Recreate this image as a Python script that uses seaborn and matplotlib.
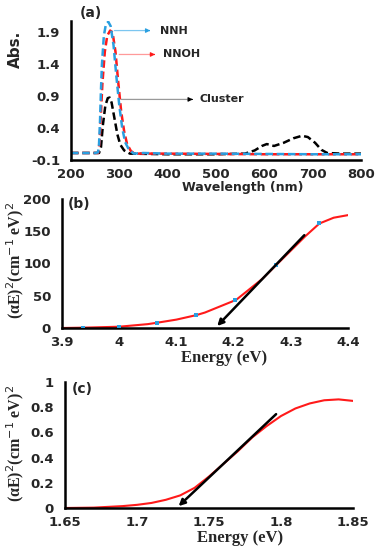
import matplotlib
matplotlib.use("Agg")
import matplotlib.pyplot as plt
import seaborn as sns
import pandas as pd

# ---------- data: panel (a) UV-Vis ----------
nnh_wl = [200, 250, 256, 258, 260, 262, 264, 268, 272, 277, 282, 288, 294, 300, 306, 312, 320, 330, 350, 400, 500, 600, 700, 800]
nnh_abs = [0.01, 0.01, 0.02, 0.15, 0.5, 1.0, 1.4, 1.85, 2.02, 2.07, 2.0, 1.7, 1.2, 0.75, 0.4, 0.18, 0.06, 0.0, 0.01, 0.0, 0.0, -0.005, -0.01, -0.01]
nnoh_wl = [200, 256, 258, 260, 263, 265, 270, 275, 281, 286, 292, 298, 304, 310, 316, 324, 332, 400, 500, 600, 700, 800]
nnoh_abs = [0.01, 0.01, 0.1, 0.3, 0.8, 1.1, 1.6, 1.85, 1.93, 1.9, 1.6, 1.1, 0.65, 0.35, 0.15, 0.04, 0.0, 0.0, -0.005, -0.01, -0.01, -0.01]
cl_wl = [200, 258, 262, 266, 271, 276, 280, 284, 290, 296, 302, 310, 322, 400, 500, 560, 580, 595, 605, 620, 640, 660, 678, 690, 705, 718, 730, 760, 800]
cl_abs = [0.01, 0.01, 0.1, 0.45, 0.75, 0.87, 0.88, 0.8, 0.55, 0.3, 0.14, 0.05, 0.0, -0.01, -0.01, 0.0, 0.05, 0.12, 0.15, 0.12, 0.17, 0.24, 0.28, 0.26, 0.17, 0.06, 0.01, 0.0, 0.0]
a_xticks = [200, 300, 400, 500, 600, 700, 800]
a_yticks = [-0.1, 0.4, 0.9, 1.4, 1.9]

# ---------- data: panel (b) Tauc plot ----------
b_curve_e = [3.9, 3.935, 3.95, 4.0, 4.05, 4.065, 4.1, 4.135, 4.15, 4.2, 4.205, 4.25, 4.275, 4.3, 4.325, 4.35, 4.375, 4.4]
b_curve_y = [0, 0.5, 0.8, 2, 6, 8, 13, 20, 24, 42, 44, 76, 98, 120, 142, 162, 171, 175]
b_pts_e = [3.937, 4.0, 4.066, 4.134, 4.203, 4.274, 4.35]
b_pts_y = [0.5, 2, 8, 20, 44, 98, 163]
b_arrow = [(4.327, 147), (4.168, 0)]
b_xticks = [3.9, 4.0, 4.1, 4.2, 4.3, 4.4]
b_xticklabels = ["3.9", "4", "4.1", "4.2", "4.3", "4.4"]
b_yticks = [0, 50, 100, 150, 200]

# ---------- data: panel (c) Tauc plot ----------
c_curve_e = [1.65, 1.67, 1.69, 1.70, 1.71, 1.72, 1.73, 1.74, 1.75, 1.76, 1.77, 1.78, 1.79, 1.80, 1.81, 1.82, 1.83, 1.84, 1.85]
c_curve_y = [0, 0.003, 0.015, 0.025, 0.04, 0.065, 0.1, 0.16, 0.25, 0.35, 0.45, 0.56, 0.65, 0.73, 0.79, 0.83, 0.855, 0.862, 0.85]
c_arrow = [(1.798, 0.76), (1.7275, 0.0)]
c_xticks = [1.65, 1.7, 1.75, 1.8, 1.85]
c_xticklabels = ["1.65", "1.7", "1.75", "1.8", "1.85"]
c_yticks = [0, 0.2, 0.4, 0.6, 0.8, 1.0]
c_yticklabels = ["0", "0.2", "0.4", "0.6", "0.8", "1"]

sns.set_style("white")
plt.rcParams['font.family'] = ['DejaVu Sans']

W, H = 379, 550
fig = plt.figure(figsize=(W / 100, H / 100), dpi=100)

def ax_at(l, t, r, b):
    return fig.add_axes([l / W, 1 - b / H, (r - l) / W, (b - t) / H])

BLUE = "#2a9fe0"
RED = "#ff1a1a"

def style(ax, fs=9.5):
    for s in ["top", "right"]:
        ax.spines[s].set_visible(False)
    for s in ["left", "bottom"]:
        ax.spines[s].set_linewidth(1.8)
        ax.spines[s].set_color("black")
    ax.tick_params(axis="x", length=0, labelsize=fs, pad=6)
    ax.tick_params(axis="y", length=0, labelsize=fs, pad=8)
    for lab in ax.get_xticklabels() + ax.get_yticklabels():
        lab.set_fontweight("bold")
    ax.set_xlabel("")
    ax.set_ylabel("")
    ax.grid(False)

# ---------- panel (a) ----------
axa = ax_at(71, 21, 361, 160)
dfa = pd.concat([
    pd.DataFrame({"wl": nnh_wl, "abs": nnh_abs, "s": "NNH"}),
    pd.DataFrame({"wl": nnoh_wl, "abs": nnoh_abs, "s": "NNOH"}),
    pd.DataFrame({"wl": cl_wl, "abs": cl_abs, "s": "Cluster"}),
])
for name, col in [("Cluster", "black"), ("NNOH", RED), ("NNH", BLUE)]:
    sub = dfa[dfa.s == name]
    sns.lineplot(data=sub, x="wl", y="abs", ax=axa, color=col, lw=1.8,
                 linestyle=(0, (3, 1.5)), sort=False, legend=False)
axa.set_xlim(200, 800)
axa.set_ylim(-0.1, 2.08)
axa.set_xticks(a_xticks)
axa.set_yticks(a_yticks)
axa.set_yticklabels([f"{v:.1f}" for v in a_yticks])
style(axa)

def lbl_arrow(ax, x0, x1, y, tx, text, lc, hc):
    ax.annotate("", xy=(x1, y), xytext=(x0, y),
                arrowprops=dict(arrowstyle="-", color=lc, lw=0.9))
    ax.annotate("", xy=(x1 + 6, y), xytext=(x1 - 2, y),
                arrowprops=dict(arrowstyle="-|>", color=hc, lw=0.9, mutation_scale=6))
    ax.text(tx, y, text, fontsize=8, fontweight="bold", va="center", ha="left")

lbl_arrow(axa, 284, 358, 1.93, 384, "NNH", "#7cc6f0", BLUE)
lbl_arrow(axa, 294, 368, 1.555, 390, "NNOH", "#ff9a9a", RED)
lbl_arrow(axa, 298, 446, 0.85, 465, "Cluster", "#999999", "black")

fig.text(80 / W, 1 - 13 / H, "(a)", fontsize=10, fontweight="bold", va="center", ha="left")
fig.text(15 / W, 1 - 49 / H, "Abs.", fontsize=11, fontweight="bold", rotation=90, va="center", ha="center")
fig.text(243 / W, 1 - 188 / H, "Wavelength (nm)", fontsize=9, fontweight="bold", va="center", ha="center")

SERIF = ["Liberation Serif", "DejaVu Serif"]
YLAB = "(αE)$^{2}$(cm$^{-1}$ eV)$^{2}$"

# ---------- panel (b) ----------
axb = ax_at(62, 199, 348, 328)
sns.lineplot(x=b_curve_e, y=b_curve_y, ax=axb, color=RED, lw=1.5)
sns.scatterplot(x=b_pts_e, y=b_pts_y, ax=axb, color=BLUE, s=9, marker="s", edgecolor="none", zorder=3)
axb.annotate("", xy=b_arrow[1], xytext=b_arrow[0],
             arrowprops=dict(arrowstyle="-|>", color="black", lw=1.8, mutation_scale=9))
axb.set_xlim(3.9, 4.4)
axb.set_ylim(0, 200)
axb.set_xticks(b_xticks)
axb.set_xticklabels(b_xticklabels)
axb.set_yticks(b_yticks)
style(axb)
fig.text(68 / W, 1 - 204 / H, "(b)", fontsize=10, fontweight="bold", va="center", ha="left")
fig.text(224 / W, 1 - 358 / H, "Energy (eV)", fontsize=12, fontweight="bold", family=SERIF, va="center", ha="center")
fig.text(15 / W, 1 - 261 / H, YLAB, fontsize=11.5, fontweight="bold",
         family=SERIF, rotation=90, va="center", ha="center")

# ---------- panel (c) ----------
axc = ax_at(65, 382, 353, 508)
sns.lineplot(x=c_curve_e, y=c_curve_y, ax=axc, color=RED, lw=1.5)
axc.annotate("", xy=c_arrow[1], xytext=c_arrow[0],
             arrowprops=dict(arrowstyle="-|>", color="black", lw=1.8, mutation_scale=9))
axc.set_xlim(1.65, 1.85)
axc.set_ylim(0, 1.0)
axc.set_xticks(c_xticks)
axc.set_xticklabels(c_xticklabels)
axc.set_yticks(c_yticks)
axc.set_yticklabels(c_yticklabels)
style(axc)
fig.text(72 / W, 1 - 389 / H, "(c)", fontsize=10, fontweight="bold", va="center", ha="left")
fig.text(240 / W, 1 - 538 / H, "Energy (eV)", fontsize=12, fontweight="bold", family=SERIF, va="center", ha="center")
fig.text(15 / W, 1 - 444 / H, YLAB, fontsize=11.5, fontweight="bold",
         family=SERIF, rotation=90, va="center", ha="center")

fig.savefig("out.png", dpi=100)
